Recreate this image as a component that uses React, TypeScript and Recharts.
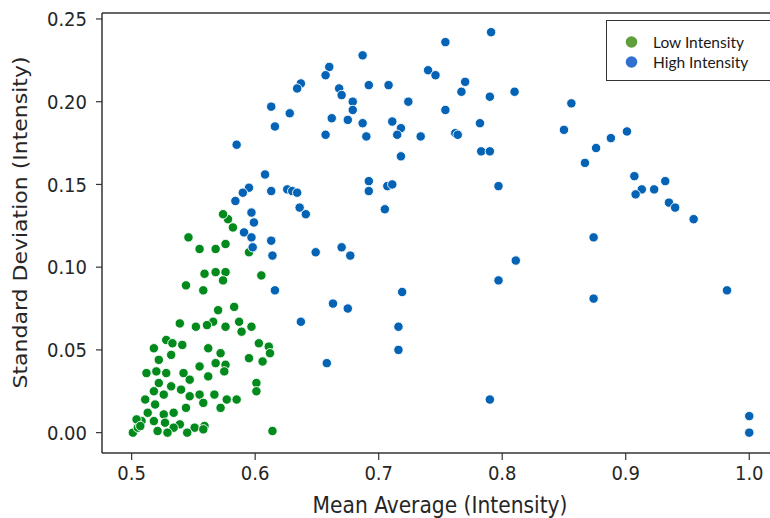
import React from "react";
import { ScatterChart, Scatter, XAxis, YAxis, ReferenceLine, Legend } from "recharts";

const xTicks = [0.5, 0.6, 0.7, 0.8, 0.9, 1.0];
const yTicks = [0, 0.05, 0.1, 0.15, 0.2, 0.25];
const seriesNames = ["Low Intensity", "High Intensity"];
const seriesColors = ["#038a1d", "#0463b5"];
const legendColors = ["#5e9f3c", "#3170d0"];

const lowMean = [
  0.582, 0.578, 0.574, 0.546, 0.555, 0.568, 0.576, 0.595, 0.559, 0.568, 0.576, 0.574, 0.605, 0.544,
  0.558, 0.57, 0.583, 0.539, 0.552, 0.566, 0.561, 0.576, 0.587, 0.589, 0.597, 0.528, 0.533, 0.541,
  0.518, 0.532, 0.562, 0.572, 0.603, 0.611, 0.612, 0.522, 0.555, 0.568, 0.576, 0.575, 0.595, 0.606,
  0.512, 0.52, 0.528, 0.542, 0.547, 0.562, 0.522, 0.532, 0.54, 0.601, 0.601, 0.518, 0.526, 0.511,
  0.547, 0.555, 0.567, 0.577, 0.585, 0.519, 0.558, 0.544, 0.572, 0.513, 0.526, 0.534, 0.508, 0.518,
  0.527, 0.539, 0.534, 0.551, 0.559, 0.558, 0.501, 0.521, 0.529, 0.545, 0.614, 0.505, 0.504, 0.507,
];
const lowStd = [
  0.124, 0.129, 0.132, 0.118, 0.111, 0.111, 0.114, 0.109, 0.096, 0.097, 0.097, 0.092, 0.095, 0.089,
  0.086, 0.074, 0.076, 0.066, 0.064, 0.067, 0.065, 0.064, 0.067, 0.061, 0.064, 0.056, 0.054, 0.053,
  0.051, 0.047, 0.051, 0.048, 0.054, 0.052, 0.048, 0.044, 0.04, 0.042, 0.041, 0.037, 0.045, 0.043,
  0.036, 0.037, 0.036, 0.036, 0.032, 0.034, 0.03, 0.028, 0.026, 0.03, 0.025, 0.025, 0.023, 0.02,
  0.022, 0.023, 0.023, 0.02, 0.02, 0.017, 0.018, 0.015, 0.015, 0.012, 0.011, 0.012, 0.007, 0.007,
  0.006, 0.005, 0.003, 0.003, 0.004, 0.002, 0.0, 0.001, 0.0, 0.0, 0.001, 0.003, 0.008, 0.004,
];

const highMean = [
  0.791, 0.754, 0.687, 0.66, 0.657, 0.74, 0.746, 0.77, 0.767, 0.81, 0.79, 0.692, 0.708, 0.668, 0.67,
  0.679, 0.679, 0.724, 0.754, 0.662, 0.675, 0.687, 0.711, 0.718, 0.715, 0.69, 0.657, 0.734, 0.762,
  0.764, 0.782, 0.783, 0.79, 0.718, 0.797, 0.692, 0.692, 0.707, 0.711, 0.705, 0.637, 0.634, 0.613,
  0.628, 0.616, 0.585, 0.608, 0.595, 0.59, 0.584, 0.613, 0.626, 0.63, 0.634, 0.636, 0.641, 0.597,
  0.599, 0.591, 0.597, 0.598, 0.613, 0.614, 0.649, 0.616, 0.637, 0.658, 0.67, 0.677, 0.811, 0.797,
  0.719, 0.663, 0.675, 0.716, 0.716, 0.79, 0.874, 0.874, 0.982, 0.955, 1.0, 1.0, 0.856, 0.85, 0.901,
  0.888, 0.876, 0.867, 0.907, 0.913, 0.908, 0.923, 0.932, 0.935, 0.94,
];
const highStd = [
  0.242, 0.236, 0.228, 0.221, 0.216, 0.219, 0.216, 0.212, 0.206, 0.206, 0.203, 0.21, 0.21, 0.208,
  0.204, 0.2, 0.195, 0.2, 0.195, 0.19, 0.189, 0.187, 0.188, 0.184, 0.18, 0.179, 0.18, 0.179, 0.181,
  0.18, 0.187, 0.17, 0.17, 0.167, 0.149, 0.152, 0.146, 0.149, 0.15, 0.135, 0.211, 0.208, 0.197,
  0.193, 0.185, 0.174, 0.156, 0.148, 0.145, 0.14, 0.146, 0.147, 0.146, 0.145, 0.136, 0.132, 0.133,
  0.127, 0.121, 0.118, 0.112, 0.116, 0.107, 0.109, 0.086, 0.067, 0.042, 0.112, 0.107, 0.104, 0.092,
  0.085, 0.078, 0.075, 0.064, 0.05, 0.02, 0.118, 0.081, 0.086, 0.129, 0.01, 0.0, 0.199, 0.183, 0.182,
  0.178, 0.172, 0.163, 0.155, 0.147, 0.144, 0.147, 0.152, 0.139, 0.136,
];

const lowData = lowMean.map((x, i) => ({ x, y: lowStd[i] }));
const highData = highMean.map((x, i) => ({ x, y: highStd[i] }));

const xDomain = [0.476, 1.0168];
const yDomain = [-0.0123, 0.2536];

const axisFont = "'DejaVu Sans Condensed', 'DejaVu Sans', sans-serif";
const axisColor = "#333333";
const textColor = "#262626";

const dot = (color: string) => (props: any) => (
  <circle cx={props.cx} cy={props.cy} r={4.7} fill={color} stroke="#ffffff" strokeWidth={0.9} />
);

// axis titles sit where the original figure put them (its plot runs past the right edge)
const XTitle = () => (
  <text x={440} y={513} textAnchor="middle" fontSize={22.5} fontFamily={axisFont} fill={textColor}>
    Mean Average (Intensity)
  </text>
);

// the source image is squeezed sideways, so the rotated title keeps full length but thin glyphs
const YTitle = () => (
  <text
    x={0}
    y={0}
    transform="translate(27 222.5) scale(0.89 1) rotate(-90)"
    textAnchor="middle"
    fontSize={22}
    fontFamily="'DejaVu Sans', sans-serif"
    fill={textColor}
  >
    Standard Deviation (Intensity)
  </text>
);

const LegendBox = () => (
  <div
    style={{
      position: "absolute",
      left: 606,
      top: 20,
      width: 170,
      height: 61,
      border: "1px solid #333",
      background: "#fff",
      fontFamily: "Lato, sans-serif",
      fontSize: 15.5,
      color: "#1a1a1a",
      boxSizing: "border-box",
    }}
  >
    {seriesNames.map((name, i) => (
      <div key={name} style={{ position: "absolute", left: 0, top: 11 + i * 20, height: 20, display: "flex", alignItems: "center" }}>
        <svg width={40} height={20} style={{ display: "block" }}>
          <circle cx={24.5} cy={10} r={5.8} fill={legendColors[i]} />
        </svg>
        <span style={{ marginLeft: 6, lineHeight: "20px" }}>{name}</span>
      </div>
    ))}
  </div>
);

export default function App() {
  return (
    <div style={{ position: "absolute", left: 0, top: 0, width: 770, height: 518, background: "#fff" }}>
      <ScatterChart width={770} height={518} margin={{ top: 13, right: 0, bottom: 0, left: 0 }}>
        <XAxis
          type="number"
          dataKey="x"
          domain={xDomain}
          ticks={xTicks}
          allowDataOverflow
          tickFormatter={(v: number) => v.toFixed(1)}
          height={65}
          tickSize={7}
          tickMargin={6}
          stroke={axisColor}
          axisLine={{ stroke: axisColor, strokeWidth: 1.5 }}
          tickLine={{ stroke: axisColor, strokeWidth: 1.2 }}
          tick={{ fontSize: 20, fontFamily: axisFont, fill: textColor }}
          label={<XTitle />}
        />
        <YAxis
          type="number"
          dataKey="y"
          domain={yDomain}
          ticks={yTicks}
          allowDataOverflow
          tickFormatter={(v: number) => v.toFixed(2)}
          width={102}
          tickSize={6}
          tickMargin={9}
          stroke={axisColor}
          axisLine={{ stroke: axisColor, strokeWidth: 1.5 }}
          tickLine={{ stroke: axisColor, strokeWidth: 1.2 }}
          tick={{ fontSize: 20, fontFamily: axisFont, fill: textColor }}
          label={<YTitle />}
        />
        <ReferenceLine y={yDomain[1]} stroke={axisColor} strokeWidth={1.5} />
        <Scatter
          name={seriesNames[0]}
          data={lowData}
          fill={seriesColors[0]}
          shape={dot(seriesColors[0])}
          isAnimationActive={false}
        />
        <Scatter
          name={seriesNames[1]}
          data={highData}
          fill={seriesColors[1]}
          shape={dot(seriesColors[1])}
          isAnimationActive={false}
        />
        <Legend content={<LegendBox />} wrapperStyle={{ position: "absolute", left: 0, top: 0, width: 0, height: 0 }} />
      </ScatterChart>
    </div>
  );
}
